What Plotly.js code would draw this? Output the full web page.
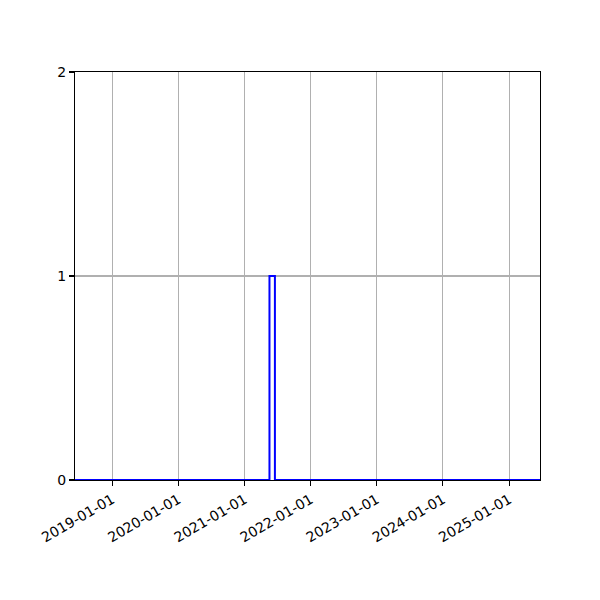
<!DOCTYPE html>
<html>
<head>
<meta charset="utf-8">
<script src="https://cdn.plot.ly/plotly-3.0.1.min.js"></script>
<style>
  body { margin: 0; background: #fff; }
  #chart { width: 600px; height: 600px; }
</style>
</head>
<body>
<div id="chart"></div>
<script>
// histogram bin edges (dates) and counts per bin
const binEdges = ['2018-06-09', '2021-05-18', '2021-06-17', '2025-06-20'];
const counts = [0, 1, 0];
const xTicks = ['2019-01-01', '2020-01-01', '2021-01-01', '2022-01-01',
                '2023-01-01', '2024-01-01', '2025-01-01'];
const yTicks = [0, 1, 2];

// step outline: value held from each left edge, last edge closes at 0
const stepY = counts.concat([0]);

const trace = {
  x: binEdges,
  y: stepY,
  type: 'scatter',
  mode: 'lines',
  line: { shape: 'hv', color: '#0000ff', width: 2 },
  hoverinfo: 'skip',
  cliponaxis: false
};

const axisCommon = {
  showline: true,
  linecolor: '#000',
  linewidth: 1.1,
  mirror: true,
  ticks: 'outside',
  ticklen: 5,
  tickwidth: 1.1,
  tickcolor: '#000',
  showgrid: true,
  gridcolor: '#b0b0b0',
  gridwidth: 1.1,
  zeroline: false,
  layer: 'below traces',
  tickfont: { family: 'DejaVu Sans', size: 14, color: '#000' }
};

const layout = {
  width: 600,
  height: 600,
  margin: { l: 75, r: 60, t: 72, b: 120 },
  paper_bgcolor: '#fff',
  plot_bgcolor: '#fff',
  showlegend: false,
  xaxis: Object.assign({}, axisCommon, {
    type: 'date',
    range: [binEdges[0], binEdges[binEdges.length - 1]],
    tickmode: 'array',
    tickvals: xTicks,
    ticktext: xTicks,
    tickangle: -30
  }),
  yaxis: Object.assign({}, axisCommon, {
    range: [0, 2],
    tickmode: 'array',
    tickvals: yTicks,
    ticktext: yTicks.map(String)
  })
};

Plotly.newPlot('chart', [trace], layout, { staticPlot: true });
</script>
</body>
</html>
